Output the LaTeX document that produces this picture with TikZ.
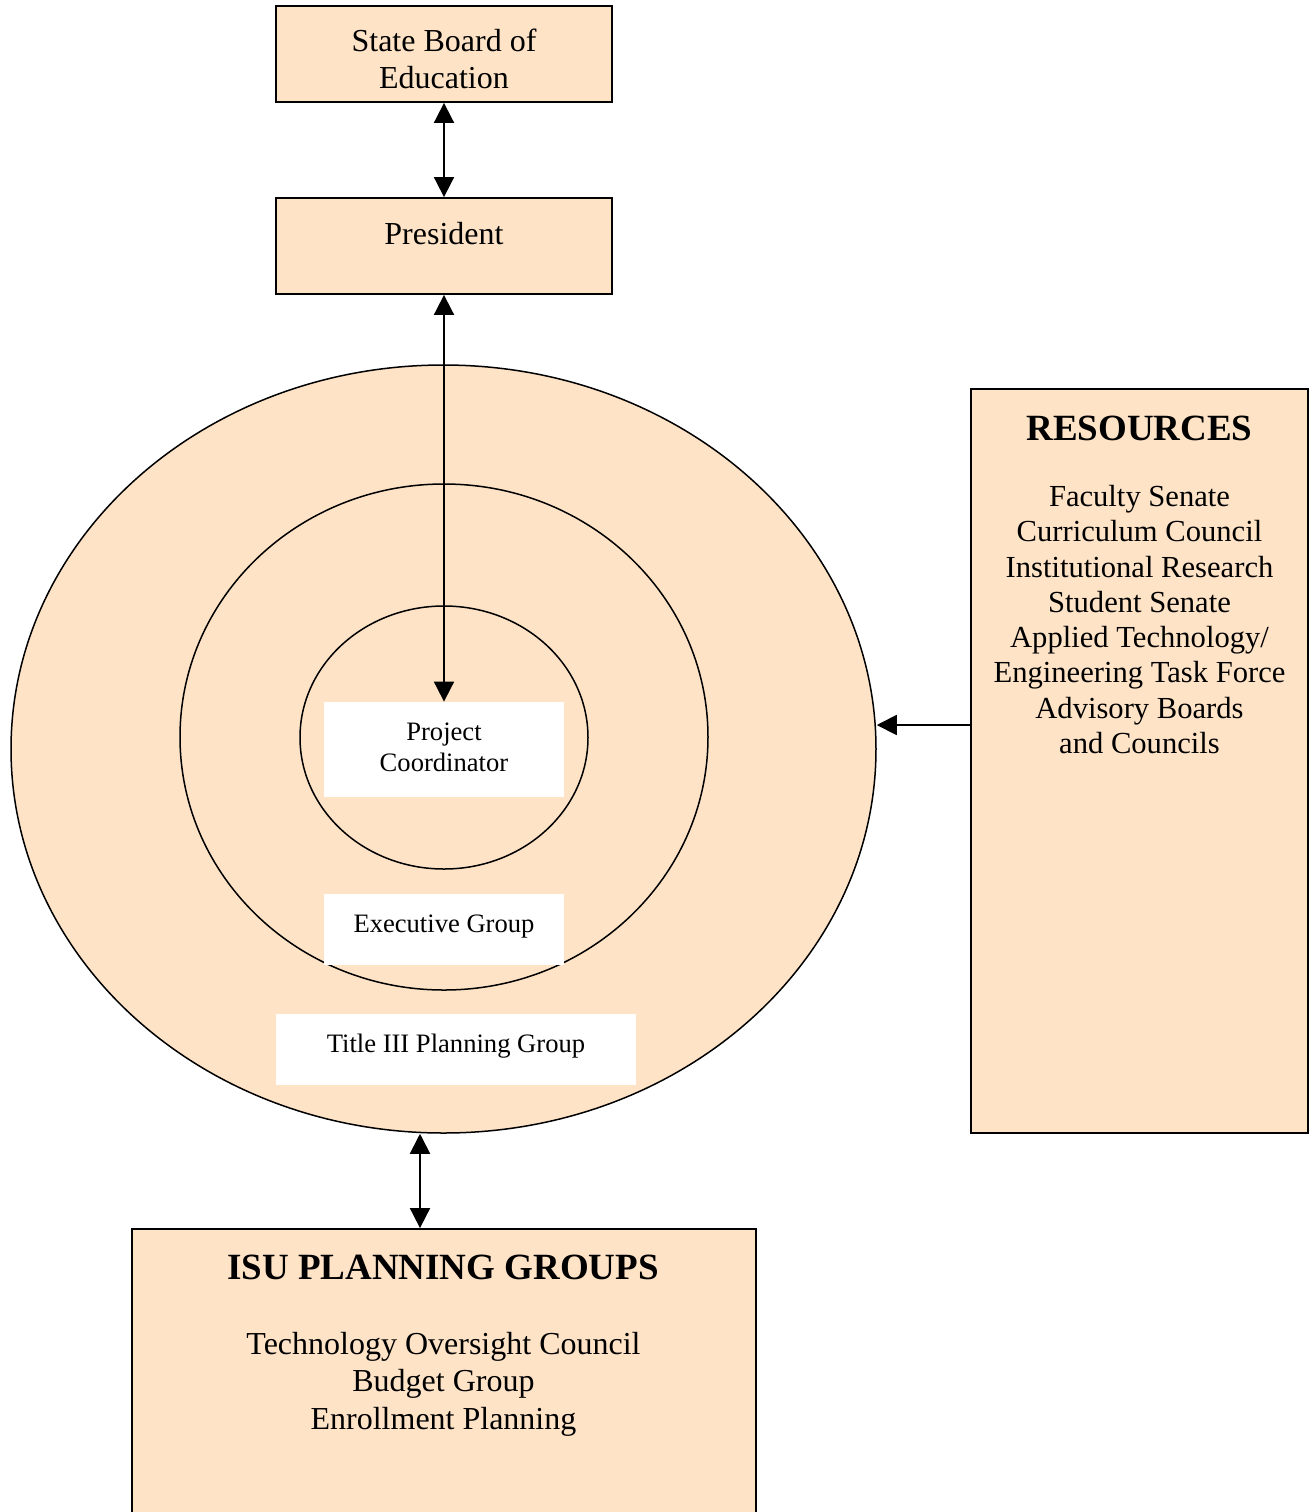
\documentclass[tikz,border=0pt]{standalone}
\usepackage{fontspec}
\setmainfont{Liberation Serif}
\usepackage{xcolor}
\usetikzlibrary{arrows.meta,shapes.geometric}

\definecolor{peach}{RGB}{254,227,199}

\begin{document}
\begin{tikzpicture}[
        x=0.5pt, y=-0.5pt,
        every node/.style={align=center, inner sep=0pt},
        box/.style    ={rectangle, draw=black, line width=0.9pt, fill=peach,
                        font=\fontsize{16}{18.5}\selectfont},
        ring/.style   ={ellipse, draw=black, line width=0.75pt, fill=peach},
        tag/.style    ={rectangle, fill=white,
                        font=\fontsize{13.3}{15.5}\selectfont},
        heading/.style={font=\fontsize{18.5}{21}\selectfont\bfseries},
        listing/.style={font=\fontsize{15.3}{17.65}\selectfont},
        flow/.style   ={-{Triangle[length=10pt,width=10pt]}, line width=0.9pt},
        twoway/.style ={{Triangle[length=10pt,width=10pt]}-{Triangle[length=10pt,width=10pt]},
                        line width=0.9pt},
    ]
        \useasboundingbox (0,0) rectangle (1309,1512);
        \clip (0,0) rectangle (1309,1512);

        % ===================== Cabecera =====================
        \node[box, minimum width=168pt, minimum height=48pt] (board) at (444,54)
            {\rule{0pt}{16pt}State Board of\\Education};
        \node[box, minimum width=168pt, minimum height=48pt, text depth=13pt] (pres) at (444,246)
            {President};

        % ===================== Anillos =====================
        \node[ring, minimum width=432.5pt, minimum height=384pt]  (outer)  at (443.5,749) {};
        \node[ring, minimum width=264pt,   minimum height=253pt]  (middle) at (444,737) {};
        \node[ring, minimum width=144pt,   minimum height=131.5pt] (inner) at (444,737.5) {};

        \node[tag, minimum width=120pt, minimum height=47.5pt, text depth=2pt] (pc) at (444,749.5)
            {Project\\Coordinator};
        \node[tag, minimum width=120pt, minimum height=35.5pt, text depth=5.4pt] (exec) at (444,929.5)
            {Executive Group};
        \node[tag, minimum width=180pt, minimum height=35.5pt, text depth=6.4pt] (t3) at (456,1049.5)
            {Title III Planning Group};

        % ===================== Recursos (derecha) =====================
        \node[box, minimum width=168.5pt, minimum height=372pt] (res) at (1139.5,761) {};
        \node[heading] (reshead) at (1139.5,428) {RESOURCES};
        \node[listing] (reslist) at (1139.5,619.5)
            {Faculty Senate\\Curriculum Council\\Institutional Research\\Student Senate\\
             Applied Technology/\\Engineering Task Force\\Advisory Boards\\and Councils};

        % ===================== Grupos ISU (abajo) =====================
        \node[box, minimum width=312pt, minimum height=150.5pt] (isu) at (444,1379.5) {};
        \node[heading] (isuhead) at (443,1267) {ISU PLANNING GROUPS};
        \node[box, draw=none, fill=none, font=\fontsize{16}{18.75}\selectfont] (isulist) at (443.5,1384)
            {Technology Oversight Council\\Budget Group\\Enrollment Planning};

        % ===================== Flechas =====================
        \coordinate (resy) at (920,725);
        \coordinate (isux) at (420,1180);
        \draw[twoway] (board) -- (pres);
        \draw[twoway] (pres.south) -- (pc.north);
        \draw[flow] (res.west |- resy) -- (outer.east |- resy);
        \draw[twoway] (outer.south -| isux) -- (isu.north -| isux);
    \end{tikzpicture}
\end{document}
